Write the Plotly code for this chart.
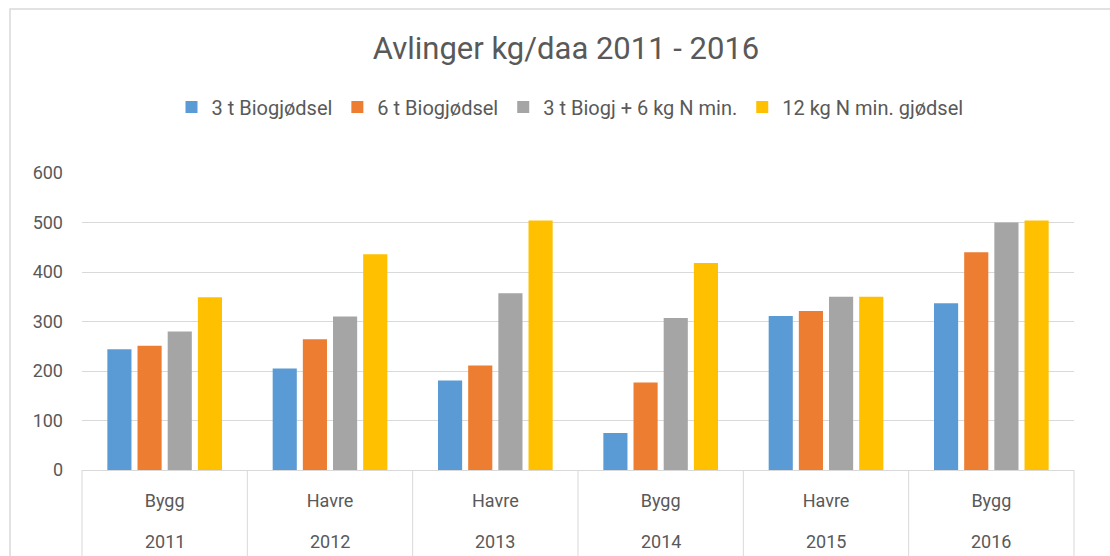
import plotly.graph_objects as go

years = ["2011", "2012", "2013", "2014", "2015", "2016"]
crops = ["Bygg", "Havre", "Havre", "Bygg", "Havre", "Bygg"]

series_names = ["3 t Biogjødsel", "6 t Biogjødsel", "3 t Biogj + 6 kg N min.", "12 kg N min. gjødsel"]
s_3t = [244, 205, 181, 75, 311, 337]
s_6t = [251, 264, 211, 177, 321, 440]
s_3t_6n = [280, 310, 357, 307, 350, 500]
s_12n = [349, 436, 504, 418, 350, 504]
colors = ["#5B9BD5", "#ED7D31", "#A5A5A5", "#FFC000"]

title = "Avlinger kg/daa 2011 - 2016"
y_ticks = [0, 100, 200, 300, 400, 500, 600]

FONT = "Roboto, Open Sans, sans-serif"
TXT = "#595959"
GRID = "#d9d9d9"

# unique, non-numeric category keys (crop + year)
keys = [f"{c} {y}" for c, y in zip(crops, years)]

fig = go.Figure()
for name, vals, col in zip(series_names, [s_3t, s_6t, s_3t_6n, s_12n], colors):
    fig.add_trace(go.Bar(
        x=keys, y=vals, name=name,
        marker=dict(color=col, line=dict(width=0)),
    ))

W, H = 1110, 556
ml, mr, mt, mb = 82, 36, 173, 86
pw, ph = W - ml - mr, H - mt - mb

shapes = [dict(type="rect", xref="paper", yref="paper",
               x0=(10 - ml) / pw, x1=(W + 20 - ml) / pw,
               y0=-(mb + 20) / ph, y1=(ph + mt - 9) / ph,
               line=dict(color=GRID, width=1.5), layer="below")]
# category dividers below the axis
n = len(keys)
for i in range(n + 1):
    shapes.append(dict(type="line", xref="paper", yref="paper",
                       x0=i / n, x1=i / n, y0=0, y1=-(mb + 5) / ph,
                       line=dict(color=GRID, width=1)))

annotations = [dict(x=(i + 0.5) / n, y=-(541 - 470) / ph, xref="paper", yref="paper",
                    text=yr, showarrow=False, yanchor="middle", xanchor="center",
                    font=dict(size=18, color=TXT, family=FONT))
               for i, yr in enumerate(years)]

fig.update_layout(
    width=W, height=H,
    margin=dict(l=ml, r=mr, t=mt, b=mb),
    paper_bgcolor="white", plot_bgcolor="white",
    barmode="group", bargap=0.27, bargroupgap=0.2,
    font=dict(family=FONT, color=TXT, size=18),
    title=dict(text=title, x=(566 - ml) / pw, xanchor="center", xref="paper",
               y=1 - 48 / H, yanchor="middle",
               font=dict(size=31, color=TXT, family=FONT)),
    legend=dict(orientation="h", x=(570 - ml) / pw, xanchor="center", xref="paper",
                y=(ph + mt - 107) / ph, yanchor="middle", yref="paper",
                font=dict(size=20, color=TXT), itemwidth=30,
                traceorder="normal"),
    showlegend=True,
    xaxis=dict(
        type="category", showgrid=False, showline=True, linecolor=GRID,
        linewidth=1, tickvals=keys, ticktext=crops, range=[-0.5, n - 0.5],
        tickfont=dict(size=18, color=TXT), ticks="", ticklabelstandoff=14,
    ),
    yaxis=dict(
        range=[0, 600], tickvals=y_ticks, showgrid=True, gridcolor=GRID,
        gridwidth=1, zeroline=False, showline=False, ticks="",
        tickfont=dict(size=18, color=TXT), ticklabelstandoff=18,
    ),
    shapes=shapes,
    annotations=annotations,
)

fig.write_html(
    "out.html",
    config={"displayModeBar": False},
    post_script="document.body.style.margin='0';document.body.style.overflow='hidden';",
)
